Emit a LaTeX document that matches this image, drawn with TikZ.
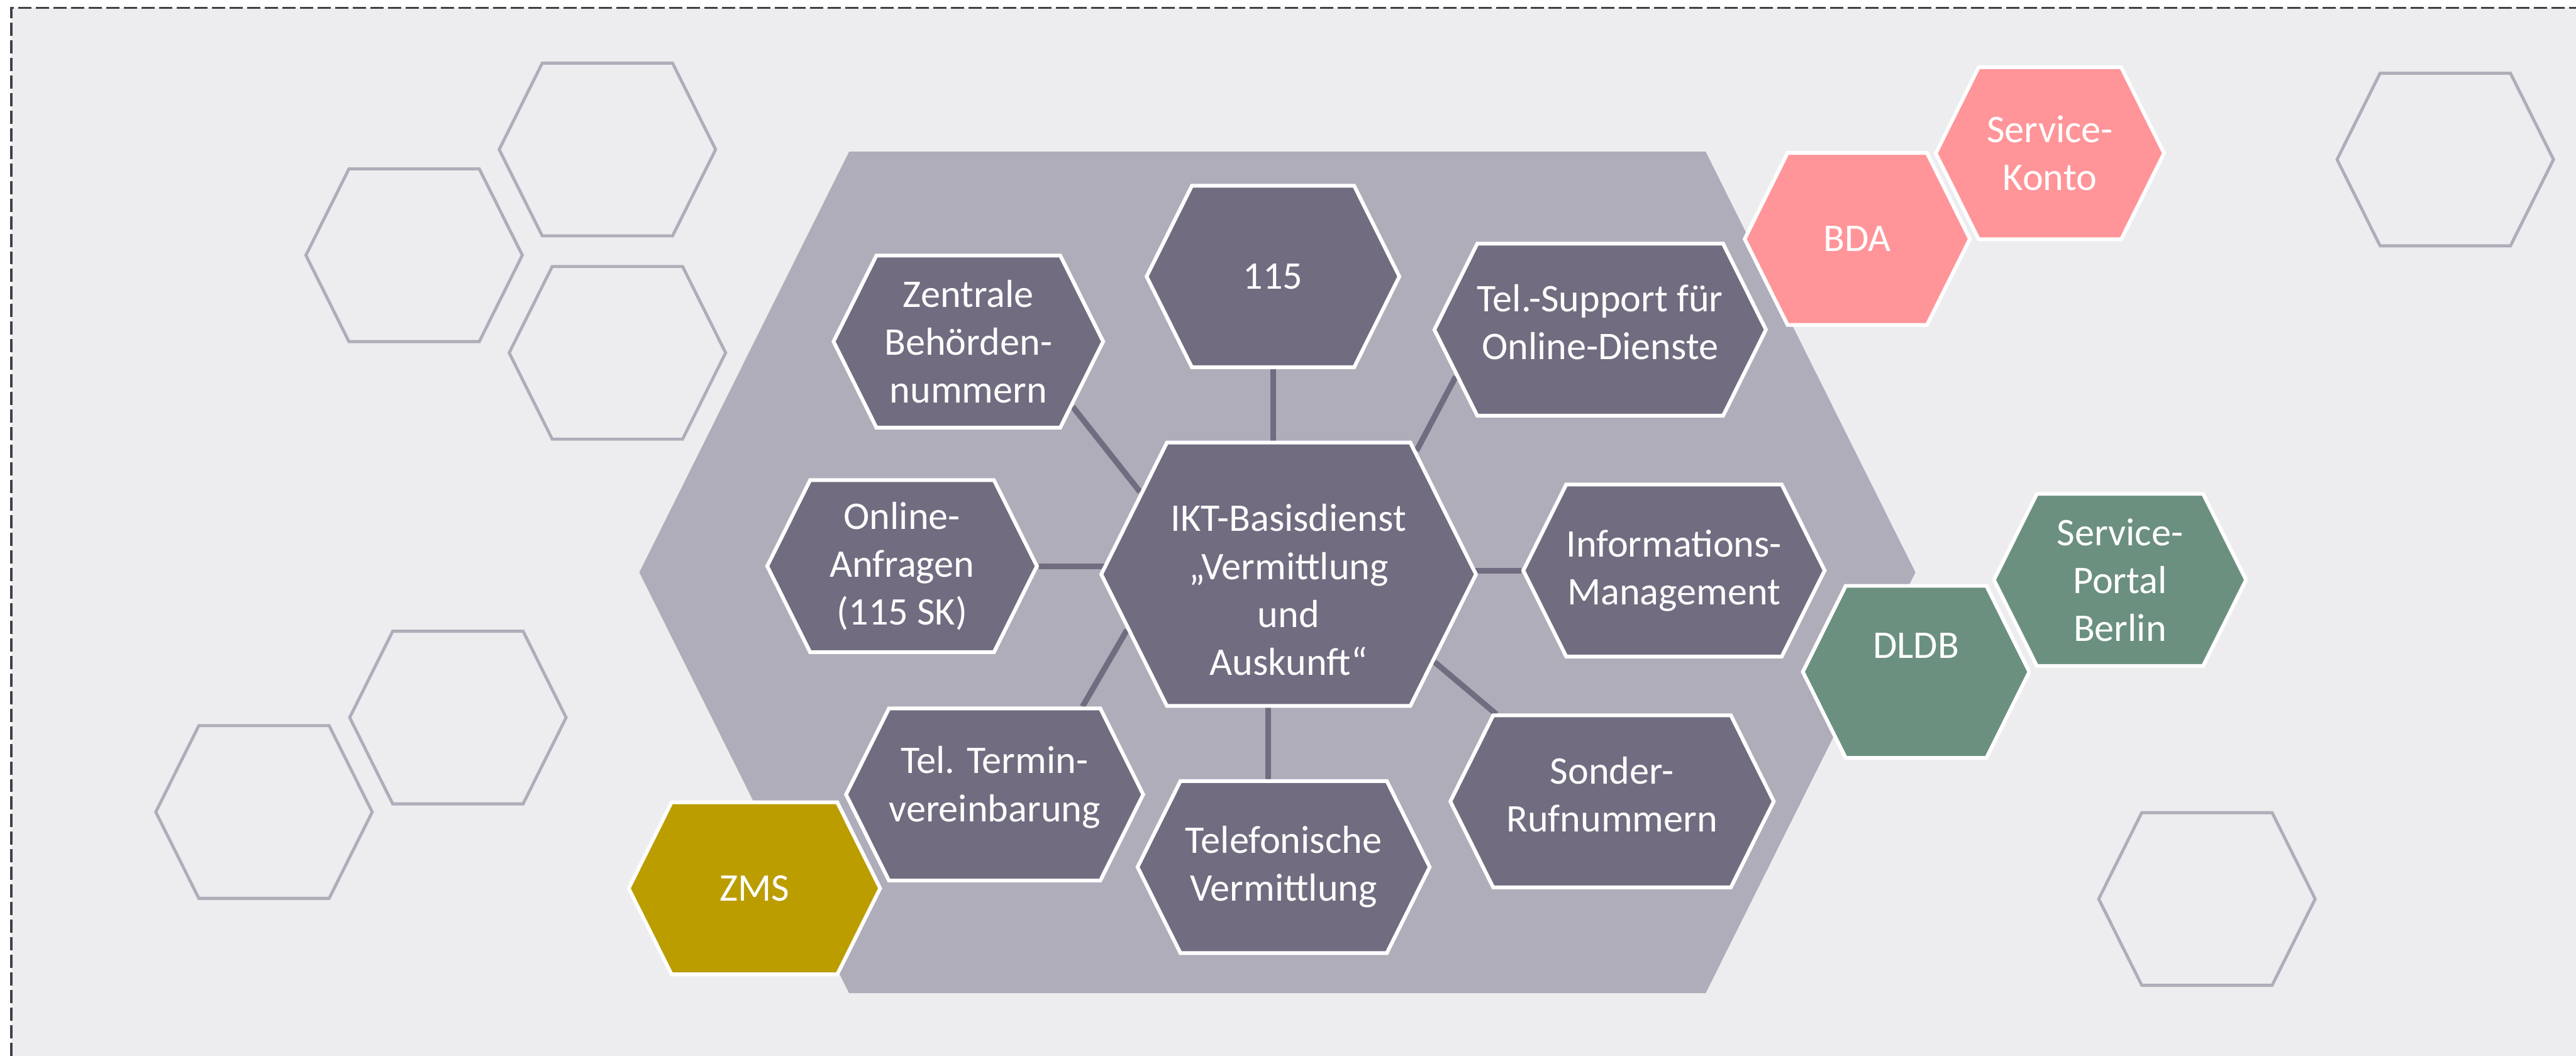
\documentclass[tikz,border=0pt]{standalone}
\usepackage{fontspec}
\setmainfont{Carlito}
\usepackage{xcolor}
\usepackage{tikz}
\usetikzlibrary{shapes.symbols, backgrounds}

\definecolor{bgGray}{RGB}{237,237,239}
\definecolor{frameGray}{RGB}{64,64,72}
\definecolor{hexGray}{RGB}{176,173,186}
\definecolor{hexDark}{RGB}{113,108,128}
\definecolor{pinkHex}{RGB}{255,149,153}
\definecolor{greenHex}{RGB}{107,144,128}
\definecolor{ochreHex}{RGB}{187,157,0}

\begin{document}
\begin{tikzpicture}
    % styles
    \tikzstyle{hexa} = [signal, signal to=west and east, signal pointer angle=127, inner sep=0pt]
    \tikzstyle{cell} = [hexa, draw=white, line width=1.7pt, fill=hexDark, text=white, align=center, font=\fontsize{17.8}{21.8}\selectfont, minimum height=2.75cm]
    \tikzstyle{ghost} = [hexa, draw=hexGray, line width=1.4pt, minimum width=3.46cm, minimum height=2.76cm]
    \tikzstyle{frame} = [draw=frameGray, line width=1pt, dash pattern=on 6pt off 2pt]
    \tikzstyle{link} = [line width=2.6pt, draw=hexDark]

    \useasboundingbox (0,0) rectangle (41.18,16.88);

    % services around the core
    \node (ikt) [cell, minimum width=5.99cm, minimum height=4.21cm] at (20.60,7.70) {\rule{0pt}{0.93cm}IKT-Basisdienst\\„Vermittlung\\und\\Auskunft“};
    \node (p115) [cell, minimum width=4.04cm, minimum height=2.90cm] at (20.35,12.46) {115};
    \node (zentral) [cell, minimum width=4.31cm] at (15.48,11.42) {Zentrale\\Behörden-\\nummern};
    \node (support) [cell, minimum width=5.14cm] at (25.58,11.61) {Tel.-Support für\\Online-Dienste\rule[-0.24cm]{0pt}{0.24cm}};
    \node (anfragen) [cell, minimum width=4.31cm] at (14.42,7.83) {Online-\\Anfragen\\(115 SK)};
    \node (infomgmt) [cell, minimum width=4.56cm] at (26.76,7.76) {Informations-\\Management};
    \node (termin) [cell, minimum width=4.34cm] at (15.90,4.18) {Tel. Termin-\\vereinbarung\rule[-0.34cm]{0pt}{0.34cm}};
    \node (telefon) [cell, minimum width=4.67cm] at (20.52,3.02) {Telefonische\\Vermittlung};
    \node (sonder) [cell, minimum width=5.17cm] at (25.77,4.07) {Sonder-\\Rufnummern\rule[-0.22cm]{0pt}{0.22cm}};

    % connected systems
    \node (zms) [cell, fill=ochreHex, minimum width=4.02cm] at (12.06,2.68) {ZMS};
    \node (bda) [cell, fill=pinkHex, minimum width=3.60cm] at (29.69,13.06) {BDA};
    \node (konto) [cell, fill=pinkHex, minimum width=3.65cm] at (32.77,14.43) {Service-\\Konto};
    \node (dldb) [cell, fill=greenHex, minimum width=3.62cm, text depth=0.84cm] at (30.63,6.14) {DLDB};
    \node (portal) [cell, fill=greenHex, minimum width=4.03cm] at (33.89,7.61) {Service-\\Portal\\Berlin};

    \begin{pgfonlayer}{background}
        % frame
        \fill [bgGray] (0.18,0) rectangle (41.18,16.755);
        \draw [frame] (0.18,0) |- (41.18,16.755);

        % empty cells
        \node (ghost1) [ghost] at (9.71,14.49) {};
        \node (ghost2) [ghost] at (6.62,12.80) {};
        \node (ghost3) [ghost] at (9.87,11.24) {};
        \node (ghost4) [ghost] at (4.22,3.90) {};
        \node (ghost5) [ghost] at (7.32,5.41) {};
        \node (ghost6) [ghost] at (39.09,14.33) {};
        \node (ghost7) [ghost] at (35.28,2.51) {};

        % platform
        \node (platform) [hexa, fill=hexGray, minimum width=20.40cm, minimum height=13.45cm] at (20.42,7.73) {};

        % links to the core
        \draw [link] (p115.south) -- (p115.south |- ikt.center);
        \draw [link] ([xshift=-0.33cm]ikt.center) -- ([xshift=-0.33cm]ikt.center |- telefon.center);
        \draw [link] (anfragen.east) -- (anfragen.east -| ikt.center);
        \draw [link] (infomgmt.west) -- (infomgmt.west -| ikt.center);
        \draw [link] (zentral.-32) -- (ikt.151);
        \draw [link] (support.-162) -- (ikt.44);
        \draw [link] (ikt.-161) -- (termin.45);
        \draw [link] (ikt.-31) -- (sonder.143);
    \end{pgfonlayer}
\end{tikzpicture}
\end{document}
